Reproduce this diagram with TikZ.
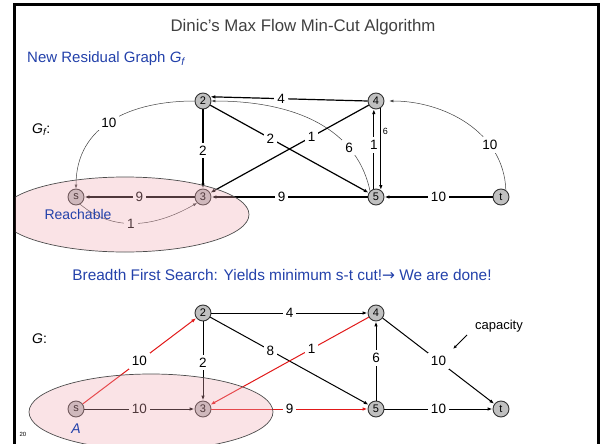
\documentclass[tikz,border=0pt]{standalone}
\usepackage{fontspec}
\setmainfont{Liberation Sans}
\newfontfamily\dvfont{DejaVu Sans}
\usetikzlibrary{arrows.meta}
\definecolor{slideblue}{RGB}{35,65,170}
\definecolor{titlegray}{RGB}{64,64,64}
\definecolor{nodegray}{RGB}{192,192,192}
\definecolor{cutpink}{RGB}{240,170,180}
\definecolor{edgered}{RGB}{225,25,25}
\begin{document}
\begin{tikzpicture}[x=1pt,y=-1pt,
  vtx/.style={circle,draw=black!80,fill=nodegray,line width=0.9pt,minimum size=16pt,inner sep=0pt,font=\fontsize{11}{11}\selectfont},
  lab/.style={fill=white,inner sep=3pt,font=\fontsize{13.5}{13.5}\selectfont},
  smalllab/.style={inner sep=1.5pt,font=\fontsize{9}{9}\selectfont},
  edge/.style={line width=1pt,-{Latex[length=5pt,width=3.5pt]}},
  topedge/.style={edge,line width=1.2pt},
  rededge/.style={edge,draw=edgered},
  thinedge/.style={line width=0.5pt,draw=black!75,-{Latex[length=4pt,width=3pt]}},
  cut/.style={fill=cutpink,fill opacity=0.33,draw=none},
  cutline/.style={draw=black!70,line width=0.7pt},
  txt/.style={inner sep=0pt,font=\fontsize{14}{14}\selectfont},
  bluetxt/.style={txt,text=slideblue}
]
\useasboundingbox (0,0) rectangle (602,444);
\begin{scope}
\clip (0,0) rectangle (602,444);
% slide frame
\draw[line width=3pt] (598,460) -- (598,5) -- (14,5) -- (14,460);

% texts
\node[txt,text=titlegray,font=\fontsize{16.8}{16.8}\selectfont] (title) at (303,27) {Dinic's Max Flow Min-Cut Algorithm};
\node[bluetxt,anchor=west,font=\fontsize{15}{15}\selectfont] (sub) at (27,59) {New Residual Graph \textit{G\textsubscript{f}}};
\node[txt,anchor=west] (gf) at (32,130) {\textit{G\textsubscript{f}}:};
\node[bluetxt,font=\fontsize{15.4}{15.4}\selectfont] (bfs) at (282,275) {Breadth First Search: Yields minimum s-t cut!{\dvfont →} We are done!};
\node[txt,anchor=west] (g) at (32,339) {\textit{G}:};

% top graph
\node[vtx] (a2) at (203,101) {2};
\node[vtx] (a4) at (376,101) {4};
\node[vtx] (as) at (76,197) {s};
\node[vtx] (a3) at (203,197) {3};
\node[vtx] (a5) at (376,197) {5};
\node[vtx] (at) at (501,197) {t};

\draw[thinedge] (a2.west) to[out=180,in=90,looseness=1.1] node[lab,pos=0.52]{10} (as.north);
\draw[thinedge] (a5.135) to[out=102,in=0] node[lab,pos=0.25]{6} (a2.east);
\draw[thinedge,shorten >=5pt] (at.55) to[out=92,in=0] node[lab,pos=0.3]{10} (a4.east);
\draw[topedge] (a4.west) -- node[lab,pos=0.55]{4} (a2.30);
\draw[topedge] (a2) -- node[lab,pos=0.52]{2} (a3);
\draw[topedge] (a2.-30) -- node[lab,pos=0.38]{2} (a5.150);
\draw[topedge] (a4.-150) -- node[lab,pos=0.36]{1} (a3.30);
\draw[topedge] (a5.105) -- node[lab,pos=0.55]{1} (a4.-105);
\draw[topedge] (a4.-55) -- node[smalllab,right,pos=0.28]{6} (a5.55);
\draw[topedge] (a3) -- node[lab]{9} (as);
\draw[topedge] (a5) -- node[lab,pos=0.55]{9} (a3);
\draw[topedge] (at) -- node[lab]{10} (a5);
\draw[thinedge] (as.-60) to[out=-40,in=-150] node[lab,pos=0.45]{1} (a3.-135);

% bottom graph
\node[vtx] (b2) at (203,313) {2};
\node[vtx] (b4) at (376,313) {4};
\node[vtx] (bs) at (76,409) {s};
\node[vtx] (b3) at (203,409) {3};
\node[vtx] (b5) at (376,409) {5};
\node[vtx] (bt) at (501,409) {t};

\draw[rededge] (bs) -- node[lab]{10} (b2);
\draw[edge] (bs) -- node[lab]{10} (b3);
\draw[edge] (b2) -- node[lab,pos=0.52]{2} (b3);
\draw[edge] (b2) -- node[lab]{4} (b4);
\draw[edge] (b2.-30) -- node[lab,pos=0.38]{8} (b5.150);
\draw[rededge] (b4.-150) -- node[lab,pos=0.36]{1} (b3.30);
\draw[rededge] (b3) -- node[lab]{9} (b5);
\draw[edge] (b5) -- node[lab,pos=0.54]{6} (b4);
\draw[edge] (b4) -- node[lab]{10} (bt);
\draw[edge] (b5) -- node[lab]{10} (bt);

% capacity note
\node[txt,font=\fontsize{13}{13}\selectfont] (capn) at (499,326) {capacity};
\coordinate (capa) at (467,335);
\coordinate (capb) at (453,349);
\draw[line width=0.8pt,-{Latex[length=4pt,width=3pt]}] (capa) -- (capb);

% cut regions
\begin{scope}
\clip (15.5,0) rectangle (602,444);
\fill[cut] (125,214.5) ellipse [x radius=124, y radius=37.5];
\draw[cutline] (125,214.5) ellipse [x radius=124, y radius=37.5];
\end{scope}
\fill[cut] (151,412) ellipse [x radius=122, y radius=38];
\draw[cutline] (151,412) ellipse [x radius=122, y radius=38];

\node[bluetxt,font=\fontsize{14}{14}\selectfont] (reach) at (78,214) {Reachable};
\node[bluetxt,font=\fontsize{14}{14}\selectfont\itshape] (aset) at (76,429) {A};
\node[txt,font=\fontsize{6}{6}\selectfont] (pg) at (23,434) {20};
\end{scope}
\end{tikzpicture}
\end{document}
